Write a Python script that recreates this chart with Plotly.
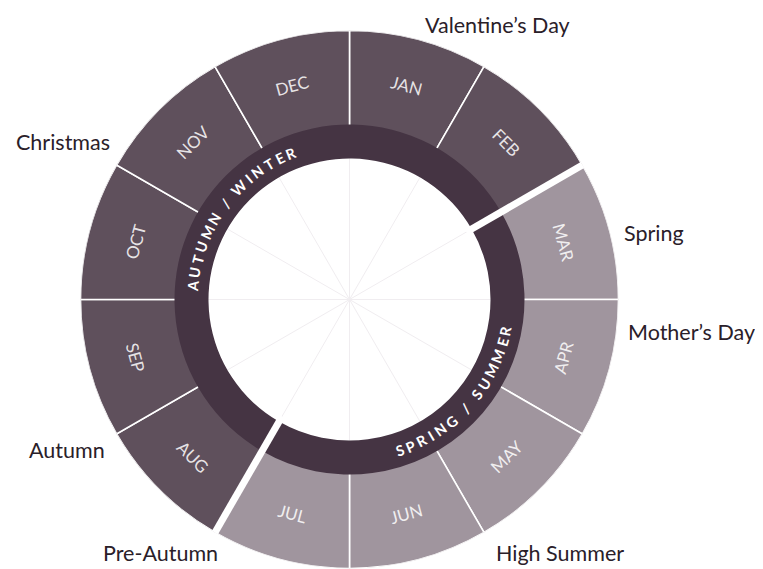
import math
import plotly.graph_objects as go

# ---------------- data ----------------
months = ["JAN", "FEB", "MAR", "APR", "MAY", "JUN",
          "JUL", "AUG", "SEP", "OCT", "NOV", "DEC"]
# 0 = spring / summer, 1 = autumn / winter
month_group = [1, 1, 0, 0, 0, 0, 0, 1, 1, 1, 1, 1]
season_names = ["SPRING / SUMMER", "AUTUMN / WINTER"]
season_first_month = [2, 7]      # MAR, AUG
season_month_count = [5, 7]
event_names = ["Valentine\u2019s Day", "Spring", "Mother\u2019s Day",
               "High Summer", "Pre-Autumn", "Autumn", "Christmas"]
event_theta = [15, 76.3, 96.7, 150.3, 207, 238.2, 303.6]   # degrees clockwise from top

# ---------------- layout constants ----------------
OFF = 8                      # page body margin of the browser
W, H = 763 - OFF, 569 - OFF
CX, CY = 349.5 - OFF, 299.5 - OFF
R_OUT, R_MID, R_IN = 269, 175, 141
STEP = 360 / len(months)
EVENT_R = [284, 280.5, 278.0, 291.8, 284.7, 285.4, 285.3]
SEASON_TEXT_CENTER = [131.3, 306.5]
SEASON_TEXT_R = [159, 157]
SEASON_TEXT_DIR = [-1, 1]
LETTER_SP = 3.7
SEASON_FS = 14.5

DARK = "#5f505c"
LIGHT = "#a0959e"
RING = "#453443"
FONT = "Lato"


def to_paper(theta, r):
    a = math.radians(theta)
    return (CX + r * math.sin(a)) / W, 1 - (CY - r * math.cos(a)) / H


def tangent_angle(theta):
    t = theta % 360
    if 90 < t < 270:
        return t - 180
    return t if t <= 90 else t - 360


fig = go.Figure()

# month ring
fig.add_trace(go.Barpolar(
    theta=[STEP * i + STEP / 2 for i in range(len(months))],
    width=[STEP] * len(months),
    base=[R_MID - 10] * len(months),
    r=[R_OUT - (R_MID - 10)] * len(months),
    marker=dict(color=[DARK if g == 1 else LIGHT for g in month_group],
                line=dict(color="white", width=1.6)),
    hoverinfo="skip",
))

# season ring
fig.add_trace(go.Barpolar(
    theta=[STEP * (f + c / 2) for f, c in zip(season_first_month, season_month_count)],
    width=[STEP * c for c in season_month_count],
    base=[R_IN] * len(season_names),
    r=[R_MID - R_IN] * len(season_names),
    marker=dict(color=RING, line=dict(width=0)),
    hoverinfo="skip",
))

# white gaps between the seasons
for f in season_first_month:
    fig.add_trace(go.Scatterpolar(
        theta=[STEP * f, STEP * f],
        r=[R_IN - 6, R_OUT + 6],
        mode="lines",
        line=dict(color="white", width=7),
        hoverinfo="skip",
    ))

annotations = []

# month labels
for i, m in enumerate(months):
    th = STEP * i + STEP / 2
    x, y = to_paper(th, (R_MID + R_OUT) / 2)
    annotations.append(dict(
        x=x, y=y, xref="paper", yref="paper", text=m, showarrow=False,
        xanchor="center", yanchor="middle", textangle=tangent_angle(th),
        font=dict(family=FONT, size=17, color="rgba(255,255,255,0.85)"),
    ))

# season labels (curved text, one character at a time)
CW = {"A": 0.68, "U": 0.71, "T": 0.59, "M": 0.88, "N": 0.74, " ": 0.26,
      "/": 0.36, "W": 0.98, "I": 0.30, "E": 0.56, "R": 0.62, "S": 0.52,
      "P": 0.60, "G": 0.72}
for k, name in enumerate(season_names):
    widths = [CW.get(ch, 0.6) * SEASON_FS for ch in name]
    centers = []
    pos = 0.0
    for j, w in enumerate(widths):
        centers.append(pos + w / 2)
        pos += w + (LETTER_SP if j < len(widths) - 1 else 0)
    total = pos
    r = SEASON_TEXT_R[k]
    for ch, c in zip(name, centers):
        if ch == " ":
            continue
        th = SEASON_TEXT_CENTER[k] + SEASON_TEXT_DIR[k] * math.degrees((c - total / 2) / r)
        x, y = to_paper(th, r)
        annotations.append(dict(
            x=x, y=y, xref="paper", yref="paper", text=ch, showarrow=False,
            xanchor="center", yanchor="middle", textangle=tangent_angle(th),
            font=dict(family=FONT, size=SEASON_FS, color="white", weight="bold"),
        ))

# event labels around the wheel
for name, th, r in zip(event_names, event_theta, EVENT_R):
    x, y = to_paper(th, r)
    annotations.append(dict(
        x=x, y=y, xref="paper", yref="paper", text=name, showarrow=False,
        xanchor="left" if th % 360 < 180 else "right", yanchor="middle",
        font=dict(family=FONT, size=21.5, color="#2a2029"),
    ))

fig.update_layout(
    width=W, height=H,
    margin=dict(l=0, r=0, t=0, b=0),
    paper_bgcolor="white",
    showlegend=False,
    hovermode=False,
    polar=dict(
        domain=dict(x=[(CX - R_OUT) / W, (CX + R_OUT) / W],
                    y=[max(0, (H - CY - R_OUT) / H), (H - CY + R_OUT) / H]),
        bgcolor="white",
        radialaxis=dict(range=[0, R_OUT], visible=False, showgrid=False),
        angularaxis=dict(rotation=90, direction="clockwise", tickmode="linear",
                         tick0=0, dtick=30, showticklabels=False, ticks="",
                         showline=False, showgrid=True, gridcolor="#f0edf0",
                         gridwidth=1),
    ),
    annotations=annotations,
)

fig.write_html("out.html")
